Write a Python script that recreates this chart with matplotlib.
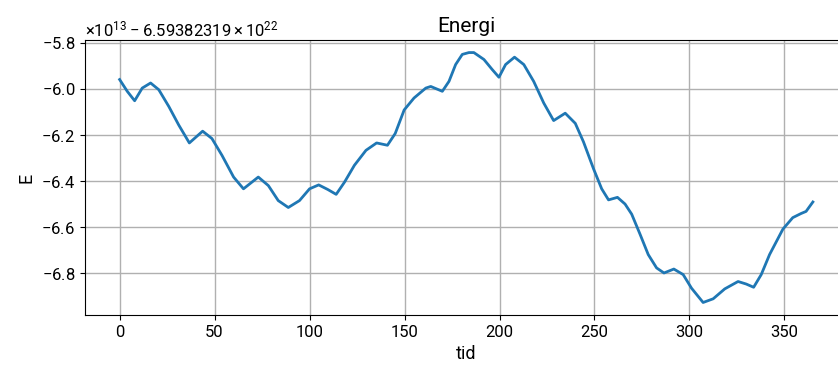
import numpy as np
import matplotlib
matplotlib.use("Agg")
import matplotlib.pyplot as plt
from matplotlib.ticker import ScalarFormatter

plt.rcParams['font.family'] = ['Roboto', 'DejaVu Sans']
plt.rcParams['mathtext.fontset'] = 'custom'
plt.rcParams['mathtext.rm'] = 'Roboto'
plt.rcParams['mathtext.it'] = 'Roboto:italic'

# energi per dag, i enheter av 1e13 relativt til OFFSET
OFFSET = -6.59382319e22
SCALE = 1e13

tid = [0, 4.0, 7.9, 11.9, 16.3, 20.6, 25.9, 31.1, 36.7, 43.7, 48.6, 53.9,
       60.0, 65.2, 73.0, 78.3, 83.5, 88.8, 94.7, 100.0, 104.8, 109.6, 114.0,
       118.4, 123.6, 129.7, 135.3, 141.0, 145.1, 149.8, 155.0, 161.2, 163.8,
       169.9, 173.4, 176.9, 180.4, 183.9, 186.5, 191.8, 196.2, 199.7, 203.2,
       207.9, 212.8, 218.0, 223.3, 228.5, 234.6, 239.9, 244.2, 249.5, 253.8,
       257.4, 262.1, 266.1, 269.6, 274.0, 278.3, 282.7, 286.6, 291.8, 296.7,
       301.1, 307.2, 312.5, 318.6, 325.6, 329.9, 333.8, 337.8, 342.2, 349.2,
       354.4, 358.8, 361.4, 365.0]
energi = [-5.959, -6.010, -6.051, -5.996, -5.974, -6.003, -6.076, -6.156,
          -6.234, -6.183, -6.215, -6.288, -6.382, -6.433, -6.382, -6.419,
          -6.484, -6.514, -6.484, -6.433, -6.416, -6.436, -6.457, -6.404,
          -6.331, -6.266, -6.234, -6.244, -6.193, -6.091, -6.039, -5.996,
          -5.989, -6.010, -5.967, -5.894, -5.850, -5.842, -5.842, -5.872,
          -5.916, -5.949, -5.894, -5.862, -5.894, -5.967, -6.061, -6.137,
          -6.105, -6.149, -6.229, -6.346, -6.433, -6.481, -6.470, -6.499,
          -6.543, -6.630, -6.718, -6.776, -6.798, -6.781, -6.805, -6.864,
          -6.926, -6.910, -6.867, -6.835, -6.846, -6.860, -6.805, -6.718,
          -6.608, -6.558, -6.540, -6.531, -6.490]

E = np.array(energi) * SCALE + OFFSET


class SpacedFormatter(ScalarFormatter):
    # luft rundt minustegnet mellom faktor og offset
    def get_offset(self):
        s = super().get_offset()
        for m in ('\u2212', '-'):
            if m in s:
                return s.replace(m, r'\:' + m + r'\:', 1)
        return s


fig = plt.figure(figsize=(8.38, 3.71), dpi=100)
ax = fig.add_axes([0.1014, 0.151, 0.91, 0.741])
ax.plot(tid, E, color='#1f77b4', lw=2)
ax.grid(True, color='#b0b0b0', lw=1)
ax.spines['right'].set_visible(False)
ax.yaxis.set_major_formatter(SpacedFormatter(useMathText=True))
ax.tick_params(labelsize=12)
ax.yaxis.get_offset_text().set_fontsize(12)
ax.set_title("Energi", fontsize=15)
ax.set_xlabel("tid", fontsize=13)
ax.set_ylabel("E", fontsize=13)

fig.savefig("out.png", dpi=100)
